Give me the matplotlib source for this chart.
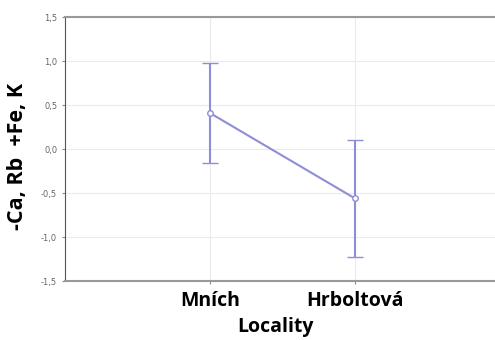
import numpy as np
import matplotlib
matplotlib.use("Agg")
import matplotlib.pyplot as plt

localities = ["Mních", "Hrboltová"]
means = [0.41, -0.56]
upper = [0.98, 0.10]
lower = [-0.16, -1.23]
yticks = [-1.5, -1.0, -0.5, 0.0, 0.5, 1.0, 1.5]
ytick_labels = ["-1,5", "-1,0", "-0,5", "0,0", "0,5", "1,0", "1,5"]

col = "#8e8ed8"
fig = plt.figure(figsize=(4.95, 3.4), dpi=100)
# axes run a little past the right edge, like the original screenshot
ax = fig.add_axes([0.131, 0.173, 0.879, 0.777])

x = np.arange(1, len(localities) + 1)
m = np.array(means)
err = [m - np.array(lower), np.array(upper) - m]
ax.errorbar(x, m, yerr=err, color=col, lw=1.5, capsize=5.5, capthick=1.5,
            marker="o", ms=4, mfc="white", mec=col, mew=1, zorder=3)

ax.set_xlim(0, 3)
ax.set_ylim(-1.5, 1.5)
ax.set_xticks(x)
ax.set_xticklabels(localities, fontsize=14, fontweight="bold", family="Open Sans")
ax.set_yticks(yticks)
ax.set_yticklabels(ytick_labels, fontsize=6, color="#666666")
ax.grid(True, color="#ebebeb", lw=0.8)
ax.set_axisbelow(True)
ax.tick_params(axis="both", length=2, color="#888888")
ax.tick_params(axis="x", pad=5)
ax.spines["right"].set_visible(False)
ax.spines["top"].set_color("#999999")
ax.spines["top"].set_linewidth(1.5)
ax.spines["left"].set_color("#555555")
ax.spines["bottom"].set_color("#999999")
ax.spines["bottom"].set_linewidth(1.5)

ax.set_xlabel("Locality", fontsize=14, fontweight="bold", family="Open Sans")
ax.xaxis.set_label_coords(0.483, -0.135)
fig.text(0.036, 0.54, "-Ca, Rb  +Fe, K", rotation=90, fontsize=15.5, fontweight="bold",
         family="Open Sans", ha="center", va="center")

fig.savefig("out.png", dpi=100)
